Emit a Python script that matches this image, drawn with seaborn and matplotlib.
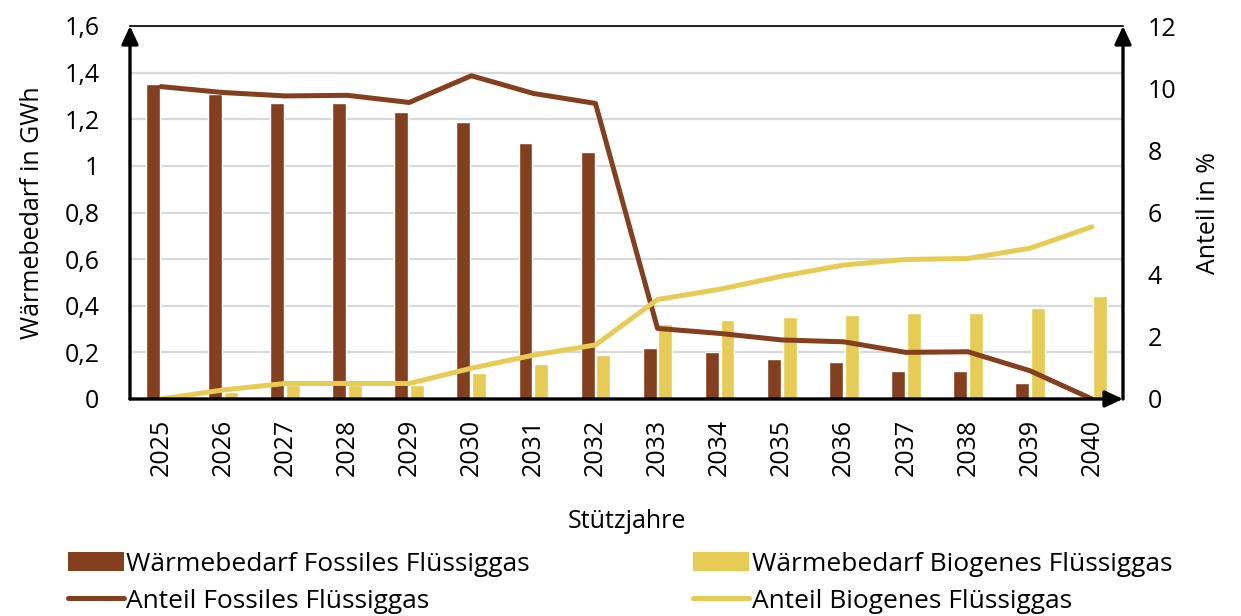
import numpy as np
import pandas as pd
import matplotlib
matplotlib.use("Agg")
import matplotlib.pyplot as plt
import seaborn as sns
from matplotlib.patches import Patch
from matplotlib.lines import Line2D

# Stützjahre
years = ["2025", "2026", "2027", "2028", "2029", "2030", "2031", "2032",
         "2033", "2034", "2035", "2036", "2037", "2038", "2039", "2040"]

# Wärmebedarf in GWh
demand_fossil = [1.35, 1.31, 1.27, 1.27, 1.23, 1.19, 1.10, 1.06,
                 0.22, 0.20, 0.17, 0.16, 0.12, 0.12, 0.07, 0.00]
demand_bio = [0.00, 0.03, 0.06, 0.06, 0.06, 0.11, 0.15, 0.19,
              0.32, 0.34, 0.35, 0.36, 0.37, 0.37, 0.39, 0.44]

# Anteil in %
share_fossil = [10.05, 9.86, 9.75, 9.77, 9.54, 10.40, 9.83, 9.51,
                2.27, 2.11, 1.90, 1.84, 1.50, 1.52, 0.91, 0.00]
share_bio = [0.00, 0.29, 0.50, 0.50, 0.50, 0.99, 1.41, 1.74,
             3.20, 3.53, 3.95, 4.31, 4.49, 4.52, 4.85, 5.54]

label_bar_fossil = "Wärmebedarf Fossiles Flüssiggas"
label_bar_bio = "Wärmebedarf Biogenes Flüssiggas"
label_line_fossil = "Anteil Fossiles Flüssiggas"
label_line_bio = "Anteil Biogenes Flüssiggas"

BROWN = "#843F1E"
YELLOW = "#E6CB55"
GRID = "#D9D9D9"
FS = 18

sns.set_theme(style="white")
plt.rcParams["font.family"] = ["Open Sans", "DejaVu Sans"]
plt.rcParams["font.size"] = FS
plt.rcParams["text.color"] = "black"
plt.rcParams["axes.labelcolor"] = "black"
plt.rcParams["xtick.color"] = "black"
plt.rcParams["ytick.color"] = "black"

df = pd.DataFrame({
    "Jahr": years * 2,
    "Wert": demand_fossil + demand_bio,
    "Art": [label_bar_fossil] * len(years) + [label_bar_bio] * len(years),
})

fig = plt.figure(figsize=(12.41, 6.16), dpi=100)
ax = fig.add_axes([130 / 1241, 1 - 399 / 616, (1123 - 130) / 1241, (399 - 26) / 616])

sns.barplot(data=df, x="Jahr", y="Wert", hue="Art", ax=ax,
            palette=[BROWN, YELLOW], width=0.51, gap=0.12,
            saturation=1, legend=False, order=years)

yt = np.round(np.arange(0, 1.61, 0.2), 1)
ax.set_xlim(-0.5, len(years) - 0.5)
ax.set_ylim(0, 1.6)
ax.set_yticks(yt)
ax.set_yticklabels([("%g" % v).replace(".", ",") for v in yt])
ax.yaxis.grid(True, color=GRID, lw=1.6)
ax.set_axisbelow(True)
ax.tick_params(axis="x", rotation=90, length=0, pad=14, labelsize=FS)
ax.tick_params(axis="y", length=0, pad=22, labelsize=FS)
ax.set_xlabel("Stützjahre", fontsize=FS, labelpad=24)
ax.set_ylabel("Wärmebedarf in GWh", fontsize=FS, labelpad=14)

ax2 = ax.twinx()
pos = np.arange(len(years))
sns.lineplot(x=pos, y=share_fossil, ax=ax2, color=BROWN, lw=3.6,
             solid_capstyle="round", solid_joinstyle="round")
sns.lineplot(x=pos, y=share_bio, ax=ax2, color=YELLOW, lw=3.6,
             solid_capstyle="round", solid_joinstyle="round")
ax2.set_ylim(0, 12)
ax2.set_yticks(range(0, 13, 2))
ax2.tick_params(axis="y", length=0, pad=18, labelsize=FS)
ax2.set_ylabel("Anteil in %", fontsize=FS, labelpad=14)
ax2.grid(False)

# Frame: thin top border, thick axes with arrowheads
for a in (ax, ax2):
    for s in ("left", "right", "bottom", "top"):
        a.spines[s].set_visible(False)
ax2.spines["top"].set_visible(True)
ax2.spines["top"].set_color("black")
ax2.spines["top"].set_linewidth(1.2)

arrow = dict(arrowstyle="-|>,head_length=0.9,head_width=0.42", color="black",
             lw=2.4, shrinkA=0, shrinkB=0, mutation_scale=12)
for start, end in (((0, 0), (0, 1)), ((1, 0), (1, 1)), ((0, 0), (1, 0))):
    ax2.annotate("", xy=end, xytext=start, xycoords="axes fraction",
                 textcoords="axes fraction", arrowprops=arrow, annotation_clip=False)

handles = [
    Patch(facecolor=BROWN, edgecolor="none", label=label_bar_fossil),
    Patch(facecolor=YELLOW, edgecolor="none", label=label_bar_bio),
    Line2D([], [], color=BROWN, lw=3.6, solid_capstyle="round", label=label_line_fossil),
    Line2D([], [], color=YELLOW, lw=3.6, solid_capstyle="round", label=label_line_bio),
]
order = [handles[0], handles[2], handles[1], handles[3]]
fig.legend(handles=order, ncol=2, loc="lower left", bbox_to_anchor=(55 / 1241, -0.018),
           frameon=False, fontsize=19, handlelength=2.1, handleheight=0.75,
           handletextpad=0.1, columnspacing=6.2, labelspacing=0.45,
           borderaxespad=0.1)

fig.savefig("out.png", dpi=100)
